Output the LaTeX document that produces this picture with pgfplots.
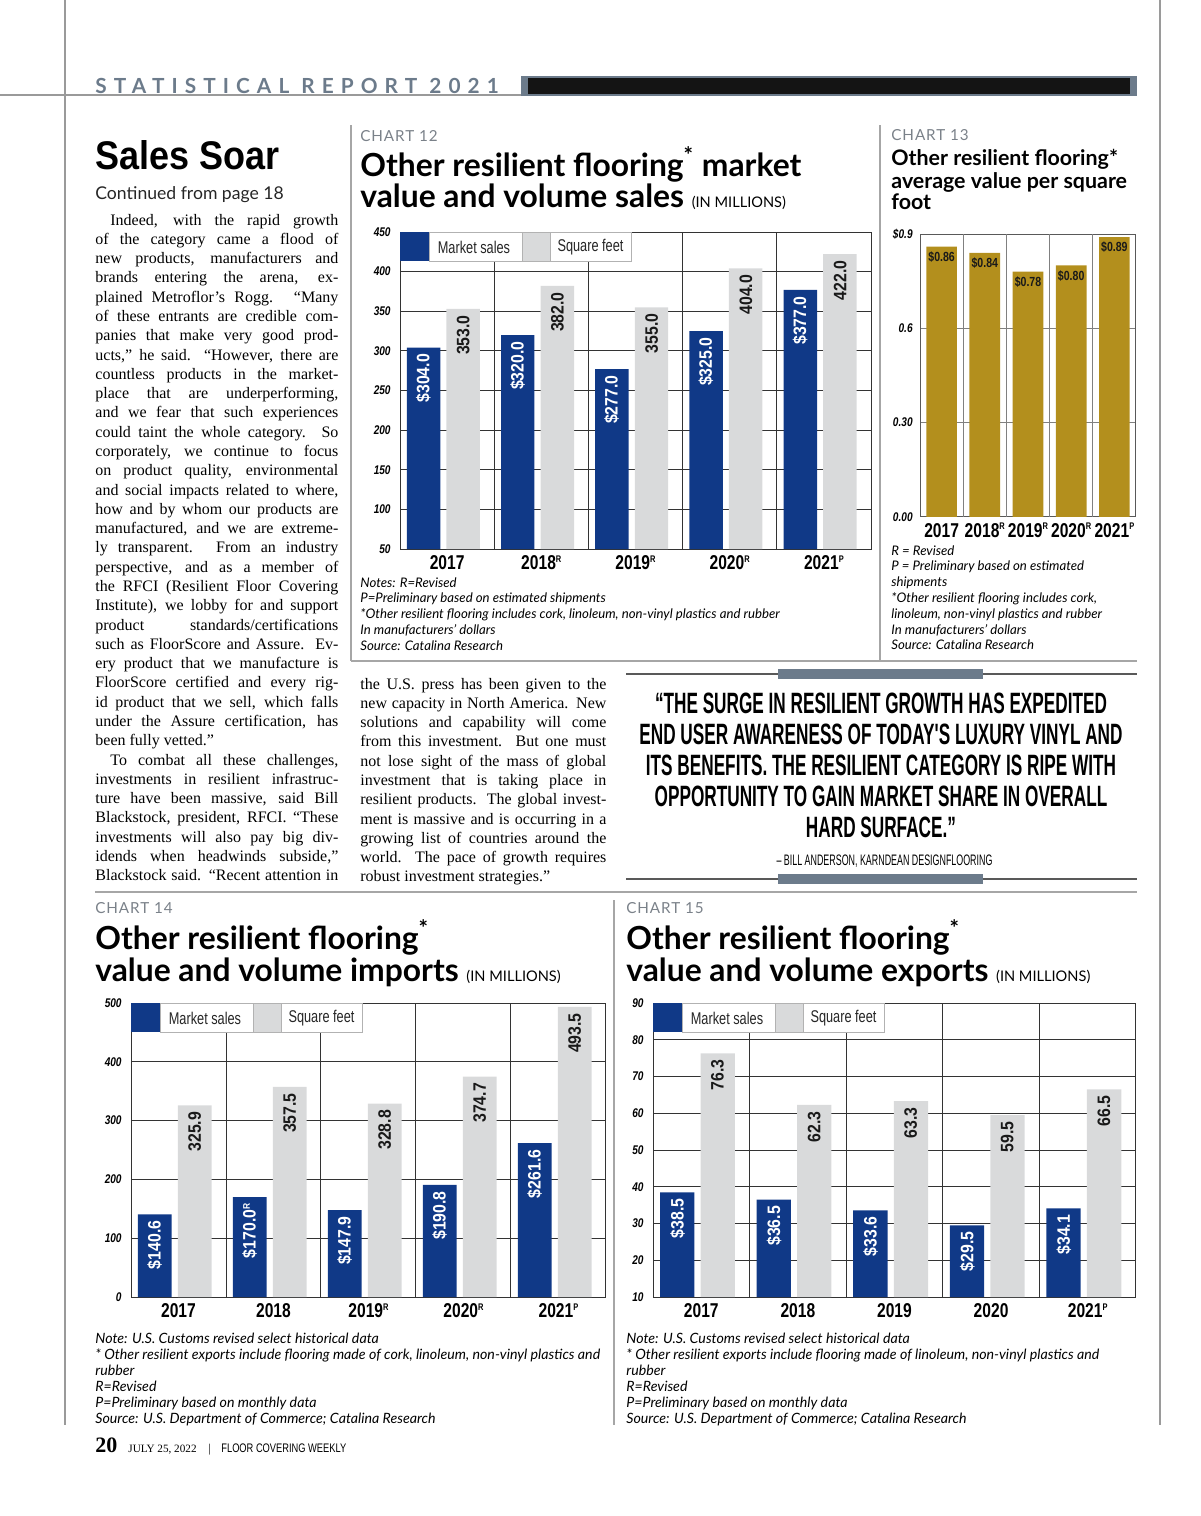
\documentclass[border=0pt]{standalone}
\usepackage{pgfplots}
\pgfplotsset{compat=1.18}
\usepackage{fontspec}
\setmainfont{Liberation Serif}
\newfontfamily\salesf[FakeStretch=0.9]{Liberation Sans}
\newfontfamily\quotef[FakeStretch=0.585]{Liberation Sans}
\newfontfamily\yearf[FakeStretch=0.78]{Liberation Sans}
\newfontfamily\tickf[FakeStretch=0.8]{Liberation Sans}
\newfontfamily\valf[FakeStretch=0.88]{Liberation Sans}
\newfontfamily\legf[FakeStretch=0.75]{Liberation Sans}
\newfontfamily\titlef{Lato}
\newfontfamily\notef{Lato}
\newfontfamily\headf[LetterSpace=34]{Lato}
\newfontfamily\chartf[LetterSpace=6]{Lato}
\definecolor{navy}{HTML}{103987}
\definecolor{lgray}{HTML}{D9DADB}
\definecolor{gold}{HTML}{B38F1D}
\definecolor{slate}{HTML}{6C7B8B}
\definecolor{lbl}{HTML}{7A8189}
\definecolor{rulec}{HTML}{9A9A9A}

\newcommand{\jline}[1]{\noindent\makebox[\linewidth][s]{#1}\par}
\newcommand{\lline}[1]{\noindent #1\par}
\newcommand{\sr}[1]{\raisebox{3.6pt}{\fontsize{4.8}{5}\selectfont #1}}
\newcommand{\vr}[1]{\raisebox{2.9pt}{\fontsize{4.8}{5}\selectfont #1}}

\pgfplotsset{
  pg/.style={
    scale only axis, anchor=north west,
    xmin=-0.5, xmax=4.5, xtick={0,1,2,3,4},
    axis line style={draw=black!80, line width=0.5pt},
    major tick length=0pt, minor tick length=0pt,
    ymajorgrids, major grid style={draw=black!80, line width=0.5pt},
    extra x ticks={0.5,1.5,2.5,3.5}, extra x tick labels={},
    extra x tick style={grid=major},
    yticklabel style={font=\tickf\bfseries\itshape\fontsize{6.3}{6.5}\selectfont, anchor=east, inner sep=0pt},
    xticklabel style={font=\yearf\bfseries\fontsize{10}{10}\selectfont, anchor=north, inner sep=0pt, text height=7.1pt},
    /pgf/number format/assume math mode=true,
  },
  bluebar/.style={ybar, fill=navy, draw=none, bar width=0.355, bar shift=-0.25,
    nodes near coords, point meta=explicit symbolic, nodes near coords align={anchor=east},
    every node near coord/.style={xshift=-11.9pt, rotate=90, anchor=east, inner sep=3pt, text=white, font=\valf\bfseries\fontsize{9}{9}\selectfont}},
  graybar/.style={ybar, fill=lgray, draw=none, bar width=0.355, bar shift=0.17,
    nodes near coords, point meta=explicit symbolic, nodes near coords align={anchor=east},
    every node near coord/.style={xshift=8.1pt, rotate=90, anchor=east, inner sep=3pt, text=black!90, font=\valf\bfseries\fontsize{9}{9}\selectfont}},
}

\newcommand{\barlegend}[2]{%
  \fill[navy] (#1,#2) rectangle ++(29,29);
  \draw[black!30, fill=white, line width=0.4pt] (#1+29,#2) rectangle ++(93,29);
  \draw[black!30, fill=lgray, line width=0.4pt] (#1+122,#2) rectangle ++(28,29);
  \draw[black!30, fill=white, line width=0.4pt] (#1+150,#2) rectangle ++(81,29);
  \node[font=\legf\fontsize{8.5}{9}\selectfont, inner sep=0pt, text=black!85] at (#1+74,#2+15) {Market sales};
  \node[font=\legf\fontsize{8.5}{9}\selectfont, inner sep=0pt, text=black!85] at (#1+190.5,#2+15) {Square feet};
}

\begin{document}
\begin{tikzpicture}
\path[use as bounding box] (0,0) rectangle (600pt,-758pt);

% ---------------- CHART 12 ----------------
\begin{axis}[pg, at={(200pt,-116pt)}, width=235.5pt, height=158.5pt,
  yticklabel style={xshift=-4.5pt}, xticklabel style={yshift=-3pt},
  ymin=50, ymax=450, ytick={50,100,...,450},
  xticklabels={2017,2018\sr{R},2019\sr{R},2020\sr{R},2021\sr{P}}]
\addplot[bluebar] coordinates {(0,304.0)[\$304.0] (1,320.0)[\$320.0] (2,277.0)[\$277.0] (3,325.0)[\$325.0] (4,377.0)[\$377.0]};
\addplot[graybar] coordinates {(0,353.0)[353.0] (1,382.0)[382.0] (2,355.0)[355.0] (3,404.0)[404.0] (4,422.0)[422.0]};
\end{axis}

% ---------------- CHART 13 ----------------
\begin{axis}[pg, at={(460pt,-117pt)}, width=108pt, height=141.5pt,
  ymin=0, ymax=0.9, ytick={0,0.3,0.6,0.9}, yticklabels={0.00,0.30,0.6,\$0.9},
  axis line style={draw=black!65, line width=0.5pt},
  major grid style={draw=black!50, line width=0.5pt},
  yticklabel style={xshift=-3.5pt},
  xticklabel style={yshift=-2.8pt},
  xticklabels={2017,2018\sr{R},2019\sr{R},2020\sr{R},2021\sr{P}}]
\addplot[ybar, bar width=0.71, bar shift=0, fill=gold, draw=none,
  nodes near coords, point meta=explicit symbolic, nodes near coords align={anchor=north},
  every node near coord/.append style={anchor=north, inner sep=2.2pt, text=black!90, font=\tickf\bfseries\fontsize{6.6}{7}\selectfont}]
  coordinates {(0,0.86)[\$0.86] (1,0.84)[\$0.84] (2,0.78)[\$0.78] (3,0.80)[\$0.80] (4,0.89)[\$0.89]};
\end{axis}

% ---------------- CHART 14 ----------------
\begin{axis}[pg, at={(65.5pt,-501.5pt)}, width=237.5pt, height=147pt,
  yticklabel style={xshift=-4.5pt}, xticklabel style={yshift=-3pt},
  ymin=0, ymax=500, ytick={0,100,...,500},
  xticklabels={2017,2018,2019\sr{R},2020\sr{R},2021\sr{P}}]
\addplot[bluebar] coordinates {(0,140.6)[\$140.6] (1,170.0)[\$170.0\vr{R}] (2,147.9)[\$147.9] (3,190.8)[\$190.8] (4,261.6)[\$261.6]};
\addplot[graybar] coordinates {(0,325.9)[325.9] (1,357.5)[357.5] (2,328.8)[328.8] (3,374.7)[374.7] (4,493.5)[493.5]};
\end{axis}

% ---------------- CHART 15 ----------------
\begin{axis}[pg, at={(326.5pt,-501.5pt)}, width=241.5pt, height=147pt,
  yticklabel style={xshift=-4.5pt}, xticklabel style={yshift=-3pt},
  ymin=10, ymax=90, ytick={10,20,...,90},
  xticklabels={2017,2018,2019,2020,2021\sr{P}}]
\addplot[bluebar] coordinates {(0,38.5)[\$38.5] (1,36.5)[\$36.5] (2,33.6)[\$33.6] (3,29.5)[\$29.5] (4,34.1)[\$34.1]};
\addplot[graybar] coordinates {(0,76.3)[76.3] (1,62.3)[62.3] (2,63.3)[63.3] (3,59.5)[59.5] (4,66.5)[66.5]};
\end{axis}

\begin{scope}[x=0.5pt, y=-0.5pt]
% page rules
\draw[rulec, line width=1.4pt] (65,0) -- (65,1425);
\draw[rulec, line width=1.4pt] (1160,0) -- (1160,1425);
\draw[rulec, line width=1pt] (0,95) -- (522,95);
\fill[black!92] (522,77) rectangle (1136,95);
\draw[slate, line width=0.8pt] (522,77) rectangle (1136,95);
\fill[slate] (522,77) rectangle (528,95);
\fill[slate] (1130,77) rectangle (1136,95);
\draw[black!35, line width=0.8pt] (351,125) -- (351,661);
\draw[black!35, line width=0.8pt] (880,125) -- (880,661);
\draw[black!35, line width=0.8pt] (351,661) -- (1137,661);
\draw[black!35, line width=0.8pt] (95,892) -- (1137,892);
\draw[black!35, line width=0.8pt] (614,900) -- (614,1425);
\draw[black!65, line width=1.2pt] (626,674) -- (1137,674);
\fill[slate] (778,669) rectangle (983,679);
\draw[black!65, line width=1.2pt] (626,879) -- (1137,879);
\fill[slate] (778,874) rectangle (983,884);

% legends
\barlegend{400}{232}
\barlegend{131}{1003}
\barlegend{653}{1003}

% header
\node[anchor=base west, inner sep=0pt, font=\headf\bfseries\fontsize{10.4}{11}\selectfont, text=slate] at (95,93) {STATISTICAL REPORT 2021};

% left column
\node[anchor=base west, inner sep=0pt, font=\salesf\bfseries\fontsize{20}{20}\selectfont] at (95,169.5) {Sales Soar};
\node[anchor=base west, inner sep=0pt, font=\titlef\fontsize{8.8}{9}\selectfont, text=black!85] at (95,199) {Continued from page 18};
\node[anchor=base west, inner sep=0pt] at (95,225) {\parbox[t]{121.5pt}{\fontsize{8}{9.645}\selectfont
\jline{\hspace*{7.5pt}Indeed, with the rapid growth}
\jline{of the category came a flood of}
\jline{new products, manufacturers and}
\jline{brands entering the arena, ex-}
\jline{plained Metroflor’s Rogg. “Many}
\jline{of these entrants are credible com-}
\jline{panies that make very good prod-}
\jline{ucts,” he said. “However, there are}
\jline{countless products in the market-}
\jline{place that are underperforming,}
\jline{and we fear that such experiences}
\jline{could taint the whole category. So}
\jline{corporately, we continue to focus}
\jline{on product quality, environmental}
\jline{and social impacts related to where,}
\jline{how and by whom our products are}
\jline{manufactured, and we are extreme-}
\jline{ly transparent. From an industry}
\jline{perspective, and as a member of}
\jline{the RFCI (Resilient Floor Covering}
\jline{Institute), we lobby for and support}
\jline{product standards/certifications}
\jline{such as FloorScore and Assure. Ev-}
\jline{ery product that we manufacture is}
\jline{FloorScore certified and every rig-}
\jline{id product that we sell, which falls}
\jline{under the Assure certification, has}
\lline{been fully vetted.”}
\jline{\hspace*{7.5pt}To combat all these challenges,}
\jline{investments in resilient infrastruc-}
\jline{ture have been massive, said Bill}
\jline{Blackstock, president, RFCI. “These}
\jline{investments will also pay big div-}
\jline{idends when headwinds subside,”}
\jline{Blackstock said. “Recent attention in}}};

% middle column
\node[anchor=base west, inner sep=0pt] at (360,689) {\parbox[t]{123pt}{\fontsize{8}{9.645}\selectfont
\jline{the U.S. press has been given to the}
\jline{new capacity in North America. New}
\jline{solutions and capability will come}
\jline{from this investment. But one must}
\jline{not lose sight of the mass of global}
\jline{investment that is taking place in}
\jline{resilient products. The global invest-}
\jline{ment is massive and is occurring in a}
\jline{growing list of countries around the}
\jline{world. The pace of growth requires}
\lline{robust investment strategies.”}}};

% chart 12 titles & notes
\node[anchor=base west, inner sep=0pt, font=\chartf\fontsize{7.6}{8}\selectfont, text=lbl] at (360,141) {CHART 12};
\node[anchor=base west, inner sep=0pt, font=\titlef\bfseries\fontsize{15.9}{16}\selectfont] at (360,176) {Other resilient flooring\textsuperscript{*} market};
\node[anchor=base west, inner sep=0pt, font=\titlef\bfseries\fontsize{15.9}{16}\selectfont] at (360,207) {value and volume sales {\mdseries\fontsize{7.3}{7}\selectfont (IN MILLIONS)}};
\node[anchor=base west, inner sep=0pt] at (360,587) {\parbox[t]{300pt}{\notef\itshape\fontsize{6.6}{7.9}\selectfont
Notes: R=Revised\\
P=Preliminary based on estimated shipments\\
{}*Other resilient flooring includes cork, linoleum, non-vinyl plastics and rubber\\
In manufacturers’ dollars\\
Source: Catalina Research}};

% chart 13 titles & notes
\node[anchor=base west, inner sep=0pt, font=\chartf\fontsize{7.6}{8}\selectfont, text=lbl] at (891,140) {CHART 13};
\node[anchor=base west, inner sep=0pt, font=\titlef\bfseries\fontsize{10.7}{11}\selectfont] at (891,165.5) {Other resilient flooring*};
\node[anchor=base west, inner sep=0pt, font=\titlef\bfseries\fontsize{10.7}{11}\selectfont] at (891,188) {average value per square};
\node[anchor=base west, inner sep=0pt, font=\titlef\bfseries\fontsize{10.7}{11}\selectfont] at (891,209.5) {foot};
\node[anchor=base west, inner sep=0pt] at (891,555) {\parbox[t]{130pt}{\notef\itshape\fontsize{6.6}{7.9}\selectfont
R = Revised\\
P = Preliminary based on estimated\\
shipments\\
{}*Other resilient flooring includes cork,\\
linoleum, non-vinyl plastics and rubber\\
In manufacturers’ dollars\\
Source: Catalina Research}};

% quote
\node[anchor=base, inner sep=0pt, font=\quotef\bfseries\fontsize{14.7}{15}\selectfont] at (881,713) {“THE SURGE IN RESILIENT GROWTH HAS EXPEDITED};
\node[anchor=base, inner sep=0pt, font=\quotef\bfseries\fontsize{14.7}{15}\selectfont] at (881,744.5) {END USER AWARENESS OF TODAY'S LUXURY VINYL AND};
\node[anchor=base, inner sep=0pt, font=\quotef\bfseries\fontsize{14.7}{15}\selectfont] at (881,775.5) {ITS BENEFITS. THE RESILIENT CATEGORY IS RIPE WITH};
\node[anchor=base, inner sep=0pt, font=\quotef\bfseries\fontsize{14.7}{15}\selectfont] at (881,806) {OPPORTUNITY TO GAIN MARKET SHARE IN OVERALL};
\node[anchor=base, inner sep=0pt, font=\quotef\bfseries\fontsize{14.7}{15}\selectfont] at (881,837) {HARD SURFACE.”};
\node[anchor=base, inner sep=0pt, font=\quotef\fontsize{7.6}{8}\selectfont] at (884.5,865) {– BILL ANDERSON, KARNDEAN DESIGNFLOORING};

% chart 14 titles & notes
\node[anchor=base west, inner sep=0pt, font=\chartf\fontsize{7.6}{8}\selectfont, text=lbl] at (95,913) {CHART 14};
\node[anchor=base west, inner sep=0pt, font=\titlef\bfseries\fontsize{15.9}{16}\selectfont] at (95,949) {Other resilient flooring\textsuperscript{*}};
\node[anchor=base west, inner sep=0pt, font=\titlef\bfseries\fontsize{15.9}{16}\selectfont] at (95,981) {value and volume imports {\mdseries\fontsize{7.3}{7}\selectfont (IN MILLIONS)}};
\node[anchor=base west, inner sep=0pt] at (95,1343) {\parbox[t]{270pt}{\notef\itshape\fontsize{7.1}{8}\selectfont
Note: U.S. Customs revised select historical data\\
{}* Other resilient exports include flooring made of cork, linoleum, non-vinyl plastics and\\
rubber\\
R=Revised\\
P=Preliminary based on monthly data\\
Source: U.S. Department of Commerce; Catalina Research}};

% chart 15 titles & notes
\node[anchor=base west, inner sep=0pt, font=\chartf\fontsize{7.6}{8}\selectfont, text=lbl] at (626,913) {CHART 15};
\node[anchor=base west, inner sep=0pt, font=\titlef\bfseries\fontsize{15.9}{16}\selectfont] at (626,949) {Other resilient flooring\textsuperscript{*}};
\node[anchor=base west, inner sep=0pt, font=\titlef\bfseries\fontsize{15.9}{16}\selectfont] at (626,981) {value and volume exports {\mdseries\fontsize{7.3}{7}\selectfont (IN MILLIONS)}};
\node[anchor=base west, inner sep=0pt] at (626,1343) {\parbox[t]{270pt}{\notef\itshape\fontsize{7.1}{8}\selectfont
Note: U.S. Customs revised select historical data\\
{}* Other resilient exports include flooring made of linoleum, non-vinyl plastics and\\
rubber\\
R=Revised\\
P=Preliminary based on monthly data\\
Source: U.S. Department of Commerce; Catalina Research}};

% footer
\node[anchor=base west, inner sep=0pt, font=\bfseries\fontsize{11}{11}\selectfont] at (95,1452) {20};
\node[anchor=base west, inner sep=0pt, font=\fontsize{5.6}{6}\selectfont] at (128,1452) {JULY 25, 2022};
\node[anchor=base west, inner sep=0pt, font=\fontsize{6}{6}\selectfont] at (208,1452) {|};
\node[anchor=base west, inner sep=0pt, font=\legf\fontsize{6.2}{6}\selectfont] at (221,1452) {FLOOR COVERING WEEKLY};
\end{scope}
\end{tikzpicture}
\end{document}
